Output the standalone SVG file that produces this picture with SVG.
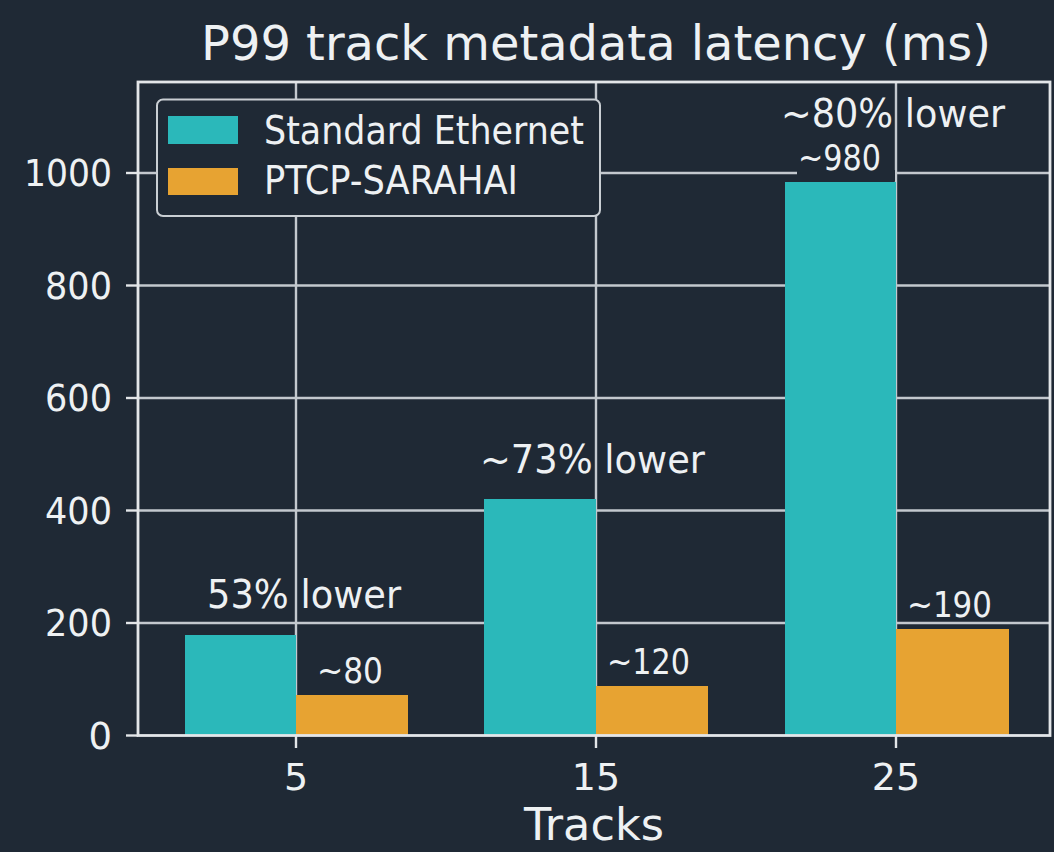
<svg xmlns="http://www.w3.org/2000/svg" width="1054" height="852" viewBox="0 0 1054 852">
<style>
.t{font-family:"DejaVu Sans","Liberation Sans",sans-serif;fill:#eef1f3;}
.grid{stroke:#c3c8ce;stroke-width:2.4;fill:none;}
.frame{stroke:#e3e6e9;stroke-width:2.8;fill:none;}
.tick{stroke:#e3e6e9;stroke-width:2.4;}
.teal{fill:#2bb8ba;}
.orange{fill:#e7a332;}
</style>
<rect x="0" y="0" width="1054" height="852" fill="#1f2935"/>
<text class="t" x="201" y="60" font-size="48" textLength="790" lengthAdjust="spacingAndGlyphs">P99 track metadata latency (ms)</text>
<g id="grid">
<line class="grid" x1="138" y1="173" x2="1050" y2="173"/>
<line class="grid" x1="138" y1="285.5" x2="1050" y2="285.5"/>
<line class="grid" x1="138" y1="398" x2="1050" y2="398"/>
<line class="grid" x1="138" y1="510.5" x2="1050" y2="510.5"/>
<line class="grid" x1="138" y1="623" x2="1050" y2="623"/>
<line class="grid" x1="296" y1="82" x2="296" y2="735.5"/>
<line class="grid" x1="596" y1="82" x2="596" y2="735.5"/>
<line class="grid" x1="896" y1="82" x2="896" y2="735.5"/>
</g>
<g id="bars">
<rect class="teal" x="185" y="635" width="111" height="100.5"/>
<rect class="orange" x="296" y="695" width="112" height="40.5"/>
<rect class="teal" x="484" y="499" width="112" height="236.5"/>
<rect class="orange" x="596" y="686" width="112" height="49.5"/>
<rect class="teal" x="785" y="182" width="111" height="553.5"/>
<rect class="orange" x="896" y="629" width="113" height="106.5"/>
<rect x="797" y="170" width="98" height="11" fill="#1f2935"/>
</g>
<g id="axes">
<rect class="frame" x="138" y="82" width="912" height="653.5"/>
<line class="tick" x1="126" y1="173" x2="138" y2="173"/>
<line class="tick" x1="126" y1="285.5" x2="138" y2="285.5"/>
<line class="tick" x1="126" y1="398" x2="138" y2="398"/>
<line class="tick" x1="126" y1="510.5" x2="138" y2="510.5"/>
<line class="tick" x1="126" y1="623" x2="138" y2="623"/>
<line class="tick" x1="126" y1="735.5" x2="138" y2="735.5"/>
<line class="tick" x1="296" y1="735.5" x2="296" y2="748"/>
<line class="tick" x1="596" y1="735.5" x2="596" y2="748"/>
<line class="tick" x1="896" y1="735.5" x2="896" y2="748"/>
<g font-size="37" text-anchor="end">
<text class="t" x="112" y="186" textLength="88" lengthAdjust="spacingAndGlyphs">1000</text>
<text class="t" x="112" y="298.5" textLength="67" lengthAdjust="spacingAndGlyphs">800</text>
<text class="t" x="112" y="411" textLength="67" lengthAdjust="spacingAndGlyphs">600</text>
<text class="t" x="112" y="523.5" textLength="67" lengthAdjust="spacingAndGlyphs">400</text>
<text class="t" x="112" y="636" textLength="67" lengthAdjust="spacingAndGlyphs">200</text>
<text class="t" x="112" y="748.5">0</text>
</g>
<g font-size="38" text-anchor="middle">
<text class="t" x="296" y="790">5</text>
<text class="t" x="596" y="790">15</text>
<text class="t" x="896" y="790">25</text>
</g>
<text class="t" x="524" y="840" font-size="44" textLength="140" lengthAdjust="spacingAndGlyphs">Tracks</text>
</g>
<g id="labels" font-size="39">
<text class="t" x="207" y="608" textLength="194" lengthAdjust="spacingAndGlyphs">53% lower</text>
<text class="t" x="480" y="473" textLength="225" lengthAdjust="spacingAndGlyphs">~73% lower</text>
<text class="t" x="781" y="127" textLength="224" lengthAdjust="spacingAndGlyphs">~80% lower</text>
<text class="t" x="317" y="683" font-size="35" textLength="66" lengthAdjust="spacingAndGlyphs">~80</text>
<text class="t" x="607" y="674" font-size="35" textLength="83" lengthAdjust="spacingAndGlyphs">~120</text>
<text class="t" x="798" y="170" font-size="35" textLength="83" lengthAdjust="spacingAndGlyphs">~980</text>
<text class="t" x="907" y="617" font-size="35" textLength="85" lengthAdjust="spacingAndGlyphs">~190</text>
</g>
<g id="legend">
<rect x="157" y="99.5" width="443" height="116.5" rx="6" fill="#1f2935" stroke="#c9ced3" stroke-width="2"/>
<rect class="teal" x="168" y="116" width="70" height="28"/>
<rect class="orange" x="168" y="168" width="70" height="27"/>
<text class="t" x="264" y="144" font-size="39" textLength="320" lengthAdjust="spacingAndGlyphs">Standard Ethernet</text>
<text class="t" x="264" y="194" font-size="39" textLength="254" lengthAdjust="spacingAndGlyphs">PTCP-SARAHAI</text>
</g>
</svg>
